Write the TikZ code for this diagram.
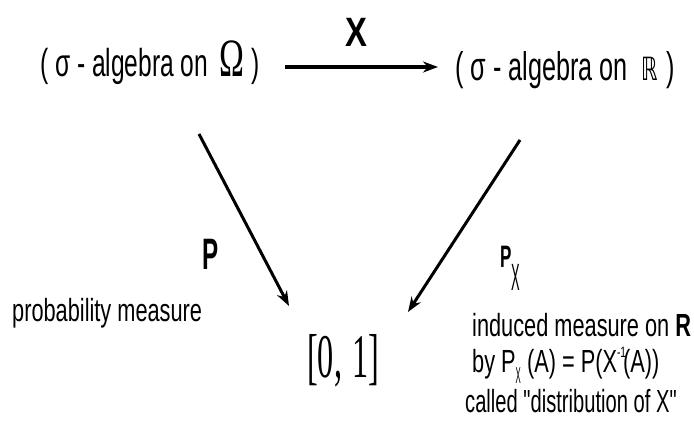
\documentclass[tikz,border=0pt]{standalone}
\usepackage{fontspec}
\setmainfont{Liberation Sans}[FakeStretch=0.68]
\newfontfamily\sansT{Liberation Sans}[FakeStretch=0.63]
\newfontfamily\sansB{Liberation Sans}[FakeStretch=0.8]
\newfontfamily\sansP{Liberation Sans}[FakeStretch=0.55]
\newfontfamily\sansN{Liberation Sans}[FakeStretch=0.34]
\newfontfamily\serifN{Liberation Serif}[FakeStretch=0.62]
\newfontfamily\serifU{Liberation Serif}[FakeStretch=0.52]
\newfontfamily\dsans{DejaVu Sans}[FakeStretch=0.65]
\usetikzlibrary{arrows.meta}
\newcommand\fsz[1]{\fontsize{#1}{#1}\selectfont}
\begin{document}
\begin{tikzpicture}[x=1pt,y=1pt,
  lab/.style={inner sep=0pt, anchor=base west},
  arr/.style={line width=3pt, -{Stealth[length=15pt,width=11pt]}}]
\useasboundingbox (0,0) rectangle (694,422);
% top labels
\node[lab] (omega) at (40,345) {\sansT\fsz{39}( σ - algebra on\hspace{11pt}{\serifN\fsz{54}Ω}\hspace{7pt})};
\node[lab] (reals) at (455,341) {\sansT\fsz{40}( σ - algebra on\hspace{14pt}{\dsans\fsz{32}ℝ}\hspace{8pt})};
\node[lab, anchor=base] (xlab) at (356,375) {\sansB\bfseries\fsz{41}X};
% bottom
\node[lab] (unit) at (307,44) {\serifU\fsz{62}[0,\hspace{10pt}1]};
% left labels
\node[lab] (plab) at (202,152) {\sansP\bfseries\fsz{44}P};
\node[lab] (prob) at (12,100) {\fsz{32}probability measure};
% right labels
\node[lab] (pxlab) at (500,154) {\sansP\bfseries\fsz{31}P{\sansN\mdseries\raisebox{-23pt}{\fsz{38}X}}};
\node[lab] (ind) at (472,85) {\fsz{32}induced measure on \textbf{R}};
\node[lab] (by) at (472,49) {\fsz{32}by P{\sansN\raisebox{-11pt}{\fsz{23}X}} (A) = P(X\raisebox{15pt}{\fsz{15}-1}\hspace{-3pt}(A))};
\node[lab] (call) at (465,9) {\sansT\fsz{32}called "distribution of X"};
% connectors
\coordinate (tS) at (285,355);
\coordinate (tE) at (438,355);
\coordinate (lS) at (199,288);
\coordinate (lE) at (289,116);
\coordinate (rS) at (520,282);
\coordinate (rE) at (408,110);
\draw[arr, line width=3.2pt] (tS) -- (tE);
\draw[arr] (lS) -- (lE);
\draw[arr] (rS) -- (rE);
\end{tikzpicture}
\end{document}
